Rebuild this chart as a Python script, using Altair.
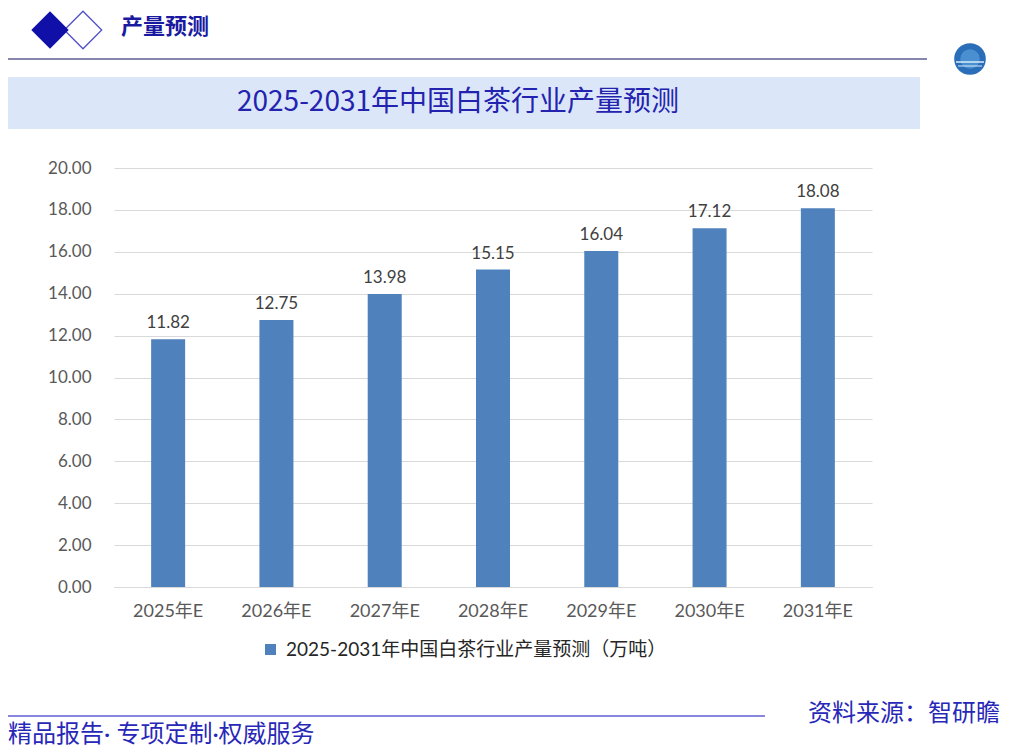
import altair as alt
import pandas as pd

years = ["2025年E", "2026年E", "2027年E", "2028年E", "2029年E", "2030年E", "2031年E"]
values = [11.82, 12.75, 13.98, 15.15, 16.04, 17.12, 18.08]
series_name = "2025-2031年中国白茶行业产量预测（万吨）"
title_text = "2025-2031年中国白茶行业产量预测"
header_text = "产量预测"
footer_left = "精品报告·  专项定制·权威服务"
footer_right = "资料来源：智研瞻"

df = pd.DataFrame({"year": years, "value": values, "series": [series_name] * len(years)})

# plot area placement on the page
PL, PT = 114, 168
W, H = 758, 419
OX, OY = PL - 8, PT - 8
RPAD = 993 - OX - W
BPAD = 739 - OY - H


def px(x):
    return x - PL


def py(y):
    return y - PT


LAT = "Lato, 'Noto Sans CJK SC', sans-serif"
CJK = "'Noto Sans CJK SC', sans-serif"

x_enc = alt.X("year:N", sort=years, title=None,
              scale=alt.Scale(paddingInner=0.686, paddingOuter=0.343),
              axis=alt.Axis(labelAngle=0, labelFontSize=18, labelColor="#595959", labelFont=LAT,
                            ticks=False, domain=True, domainColor="#d9d9d9", labelPadding=15, grid=False))
y_enc = alt.Y("value:Q", title=None,
              scale=alt.Scale(domain=[0, 20], nice=False),
              axis=alt.Axis(values=[0, 2, 4, 6, 8, 10, 12, 14, 16, 18, 20], format=".2f",
                            labelFontSize=17, labelColor="#595959", labelFont=LAT, ticks=False,
                            domain=False, gridColor="#d9d9d9", labelPadding=23))

bars = alt.Chart(df).mark_bar(color="#4f81bd").encode(
    x=x_enc, y=y_enc,
    color=alt.Color("series:N", scale=alt.Scale(range=["#4f81bd"]),
                    legend=alt.Legend(title=None, orient="none", legendX=px(261), legendY=py(640),
                                      symbolType="square", symbolSize=121, labelFontSize=19,
                                      labelColor="#262626", labelFont=LAT, labelOffset=6,
                                      padding=0, labelLimit=800)))

labels = alt.Chart(df).mark_text(fontSize=17, color="#404040", font=LAT, baseline="alphabetic", dy=-11).encode(
    x=alt.X("year:N", sort=years), y="value:Q", text=alt.Text("value:Q", format=".2f"))

one = pd.DataFrame({"a": [0]})
base = alt.Chart(one)

title_band = base.mark_rect(color="#dbe7f8").encode(
    x=alt.value(px(0)), x2=alt.value(px(920)), y=alt.value(py(77)), y2=alt.value(py(129)))
title = base.mark_text(text=title_text, fontSize=28, font=CJK, color="#2323b0", align="center",
                       baseline="middle").encode(x=alt.value(px(458)), y=alt.value(py(103)))

header_line = base.mark_rule(color="#0c0c5c", strokeWidth=1).encode(
    x=alt.value(px(0)), x2=alt.value(px(927)), y=alt.value(py(59)))
dia_outline = base.mark_point(shape="diamond", size=1400, filled=False, color="#5050c8", strokeWidth=1.3,
                              opacity=1).encode(x=alt.value(px(83)), y=alt.value(py(30)))
dia_filled = base.mark_point(shape="diamond", size=1400, filled=True, color="#1010a8", opacity=1).encode(
    x=alt.value(px(50)), y=alt.value(py(30)))
header = base.mark_text(text=header_text, fontSize=22, font=CJK, fontWeight="bold", color="#1a1aa0",
                        align="left", baseline="middle").encode(x=alt.value(px(121)), y=alt.value(py(27)))
logo = base.mark_point(shape="circle", size=1000, filled=True, color="#2a6db8", opacity=1).encode(
    x=alt.value(px(970)), y=alt.value(py(59)))
logo_in = base.mark_point(shape="circle", size=380, filled=True, color="#4a8fd0", opacity=1).encode(
    x=alt.value(px(970)), y=alt.value(py(59)))
logo_wave = base.mark_rule(color="#d8ecfa", strokeWidth=1.5).encode(
    x=alt.value(px(956)), x2=alt.value(px(984)), y=alt.value(py(62)))
logo_wave2 = base.mark_rule(color="#d8ecfa", strokeWidth=1).encode(
    x=alt.value(px(958)), x2=alt.value(px(982)), y=alt.value(py(66)))

footer_line = base.mark_rule(color="#1010c0", strokeWidth=1.2).encode(
    x=alt.value(px(0)), x2=alt.value(px(765)), y=alt.value(py(716)))
foot_l = base.mark_text(text=footer_left, fontSize=24, font=LAT, color="#2828b8", align="left",
                        baseline="middle").encode(x=alt.value(px(8)), y=alt.value(py(735)))
foot_r = base.mark_text(text=footer_right, fontSize=24, font=CJK, color="#2828b8", align="right",
                        baseline="middle").encode(x=alt.value(px(1000)), y=alt.value(py(714)))

chart = alt.layer(
    title_band, bars, labels, title, header_line, dia_outline, dia_filled, header, logo, logo_in,
    logo_wave, logo_wave2, footer_line, foot_l, foot_r
).properties(
    width=W, height=H,
    autosize=alt.AutoSizeParams(type="none"),
    padding={"left": OX, "top": OY, "right": RPAD, "bottom": BPAD},
    background="white",
).configure_view(stroke=None)

chart.save("out.html", embed_options={"renderer": "svg", "actions": False})
